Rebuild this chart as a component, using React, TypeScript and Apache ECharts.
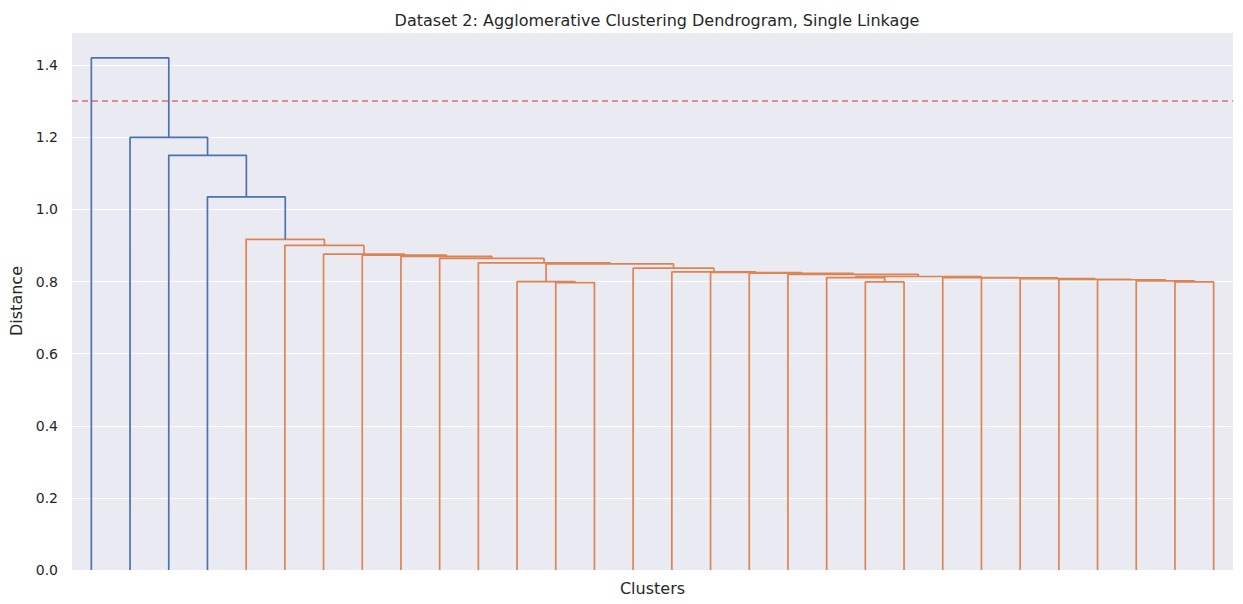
import React, { useEffect, useRef } from "react";
import * as echarts from "echarts";

// dendrogram: [left, right, height]; "L" = leaf (assigned left to right)
type Node = "L" | [Node, Node, number];

const tailHeights = [0.811, 0.81, 0.808, 0.806, 0.805, 0.802, 0.799];
const buildChain = (hs: number[]): Node =>
  hs.length === 1 ? ["L", "L", hs[0]] : ["L", buildChain(hs.slice(1)), hs[0]];

const DD: Node = buildChain(tailHeights);
const CC: Node = ["L", ["L", "L", 0.799], 0.811];
const BB: Node = [CC, DD, 0.814];
const Z: Node = ["L", BB, 0.82];
const Y: Node = ["L", Z, 0.823];
const X: Node = ["L", Y, 0.825];
const W: Node = ["L", X, 0.827];
const V: Node = ["L", W, 0.837];
const P: Node = ["L", ["L", "L", 0.797], 0.8];
const U: Node = [P, V, 0.849];
const J: Node = ["L", U, 0.852];
const D: Node = ["L", ["L", ["L", ["L", ["L", ["L", J, 0.864], 0.87], 0.873], 0.876], 0.9], 0.917];
const tree: Node = ["L", ["L", ["L", ["L", D, 1.035], 1.15], 1.2], 1.42];

const threshold = 1.3;
const colorCut = 1.0;

const App: React.FC = () => {
  const ref = useRef<HTMLDivElement>(null);

  useEffect(() => {
    if (!ref.current) return;
    const chart = echarts.init(ref.current, undefined, { renderer: "svg" });

    const blue: any[] = [];
    const orange: any[] = [];
    let leaf = 0;
    const walk = (n: Node): [number, number] => {
      if (n === "L") {
        const x = 5 + 10 * leaf;
        leaf++;
        return [x, 0];
      }
      const [lx, ly] = walk(n[0]);
      const [rx, ry] = walk(n[1]);
      const h = n[2];
      const target = h < colorCut ? orange : blue;
      target.push([lx, ly], [lx, h], [rx, h], [rx, ry], "-");
      return [(lx + rx) / 2, h];
    };
    walk(tree);

    const font = "DejaVu Sans";
    const txt = "#262626";

    chart.setOption({
      animation: false,
      backgroundColor: "#ffffff",
      title: {
        text: "Dataset 2: Agglomerative Clustering Dendrogram, Single Linkage",
        left: 652,
        textAlign: "center",
        top: 7,
        textStyle: { fontFamily: font, fontSize: 16, fontWeight: "normal", color: txt },
      },
      grid: { left: 72, right: 10, top: 32, bottom: 34, show: true, backgroundColor: "#eaeaf2", borderWidth: 0 },
      xAxis: {
        type: "value",
        min: 0,
        max: 300,
        name: "Clusters",
        nameLocation: "middle",
        nameGap: 10,
        nameTextStyle: { fontFamily: font, fontSize: 16, color: txt },
        axisLine: { show: false },
        axisTick: { show: false },
        axisLabel: { show: false },
        splitLine: { show: false },
      },
      yAxis: {
        type: "value",
        min: 0,
        max: 1.492,
        interval: 0.2,
        name: "Distance",
        nameLocation: "middle",
        nameGap: 45,
        nameTextStyle: { fontFamily: font, fontSize: 16, color: txt },
        axisLine: { show: false },
        axisTick: { show: false },
        axisLabel: {
          fontFamily: font,
          fontSize: 14,
          color: txt,
          margin: 14,
          formatter: (v: number) => (v > 1.45 ? "" : v.toFixed(1)),
        },
        splitLine: { lineStyle: { color: "#ffffff", width: 1.2 } },
      },
      series: [
        {
          type: "line",
          data: orange,
          showSymbol: false,
          connectNulls: false,
          lineStyle: { color: "#dd8452", width: 1.7 },
          z: 3,
        },
        {
          type: "line",
          data: blue,
          showSymbol: false,
          connectNulls: false,
          lineStyle: { color: "#4c72b0", width: 1.7 },
          z: 3,
          markLine: {
            silent: true,
            symbol: "none",
            label: { show: false },
            lineStyle: { color: "#d9706d", type: [6, 4], width: 1.5 },
            data: [{ yAxis: threshold }],
          },
        },
      ],
    });

    return () => chart.dispose();
  }, []);

  return (
    <div
      ref={ref}
      style={{ position: "absolute", left: 0, top: 0, width: "1243px", height: "604px" }}
    />
  );
};

export default App;
